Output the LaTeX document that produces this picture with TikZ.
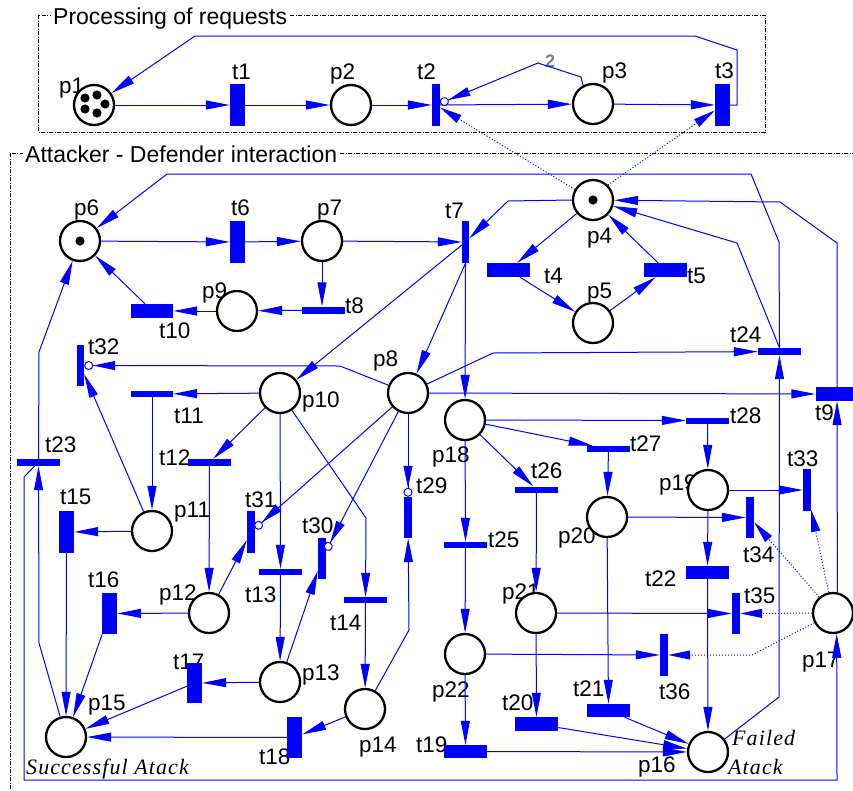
\documentclass[tikz,border=0pt]{standalone}
\usepackage{fontspec}
\setmainfont{Liberation Sans}
\newfontfamily\serifit[LetterSpace=5]{Liberation Serif}
\usetikzlibrary{arrows.meta,calc}
\begin{document}
\begin{tikzpicture}[x=1pt,y=-1pt,
 place/.style={circle,draw=black,line width=2.3pt,minimum size=40pt,inner sep=0pt,fill=white},
 trV/.style={fill=blue,inner sep=0pt,minimum width=15pt,minimum height=42pt},
 trv/.style={fill=blue,inner sep=0pt,minimum width=8pt,minimum height=42pt},
 trH/.style={fill=blue,inner sep=0pt,minimum width=43pt,minimum height=14pt},
 trh/.style={fill=blue,inner sep=0pt,minimum width=43pt,minimum height=6pt},
 lbl/.style={anchor=base west,inner sep=0pt,font=\fontsize{22.5}{24}\selectfont},
 itl/.style={anchor=base west,inner sep=0pt,font=\serifit\itshape\fontsize{22}{24}\selectfont},
 arc/.style={draw=blue,line width=1pt,-{Triangle[length=24pt,width=9pt]}},
 inh/.style={draw=blue,line width=1pt,-{Triangle[length=22pt,width=9pt]Circle[open,fill=white,length=9pt,width=9pt]}},
 test/.style={draw=blue,line width=1pt,dotted,-{Triangle[length=22pt,width=9pt]}},
 frame/.style={draw=black,line width=0.8pt,dash pattern=on 4pt off 1.5pt on 1pt off 1.5pt},
 ttl/.style={anchor=base west,inner xsep=2pt,inner ysep=0pt,fill=white,font=\fontsize{23}{24}\selectfont},
]
\useasboundingbox (0,0) rectangle (853,790);
\clip (0,0) rectangle (853,790);
\fill[white] (0,0) rectangle (853,790);
% frames
\draw[frame] (38,15) rectangle (765,132);
\draw[frame] (10,153) rectangle (900,850);
\node[ttl] (title1) at (51,24) {Processing of requests};
\node[ttl] (title2) at (23,162) {Attacker - Defender interaction};
% labels
\node[lbl] (lp1) at (59,93) {p1};
\node[lbl] (lt1) at (232,79) {t1};
\node[lbl] (lp2) at (330,79) {p2};
\node[lbl] (lt2) at (417,79) {t2};
\node[lbl] (lp3) at (602,78) {p3};
\node[lbl] (lt3) at (715,78) {t3};
\node[anchor=base west,inner sep=0pt,text=gray,font=\bfseries\fontsize{18}{18}\selectfont] (w2) at (545,67) {2};
\node[lbl] (lp6) at (74,215) {p6};
\node[lbl] (lt6) at (231,215) {t6};
\node[lbl] (lp7) at (317,215) {p7};
\node[lbl] (lt7) at (445,218) {t7};
\node[lbl] (lp4) at (587,243) {p4};
\node[lbl] (lt4) at (544,283) {t4};
\node[lbl] (lt5) at (687,283) {t5};
\node[lbl] (lp5) at (587,298) {p5};
\node[lbl] (lp9) at (202,298) {p9};
\node[lbl] (lt8) at (345,313) {t8};
\node[lbl] (lt10) at (159,338) {t10};
\node[lbl] (lt32) at (88,354) {t32};
\node[lbl] (lp8) at (373,366) {p8};
\node[lbl] (lp10) at (302,407) {p10};
\node[lbl] (lt11) at (174,423) {t11};
\node[lbl] (lt23) at (45,452) {t23};
\node[lbl] (lt12) at (159,465) {t12};
\node[lbl] (lt15) at (60,504) {t15};
\node[lbl] (lp11) at (174,517) {p11};
\node[lbl] (lt31) at (245,507) {t31};
\node[lbl] (lt30) at (302,533) {t30};
\node[lbl] (lt29) at (416,493) {t29};
\node[lbl] (lp18) at (432,462) {p18};
\node[lbl] (lt28) at (730,423) {t28};
\node[lbl] (lt27) at (630,451) {t27};
\node[lbl] (lt26) at (531,478) {t26};
\node[lbl] (lt24) at (730,342) {t24};
\node[lbl] (lt9) at (815,420) {t9};
\node[lbl] (lt33) at (787,466) {t33};
\node[lbl] (lp19) at (659,490) {p19};
\node[lbl] (lt25) at (488,547) {t25};
\node[lbl] (lp20) at (558,543) {p20};
\node[lbl] (lt34) at (743,562) {t34};
\node[lbl] (lt22) at (645,586) {t22};
\node[lbl] (lt35) at (744,603) {t35};
\node[lbl] (lt13) at (245,602) {t13};
\node[lbl] (lt16) at (88,587) {t16};
\node[lbl] (lp12) at (159,600) {p12};
\node[lbl] (lt14) at (330,630) {t14};
\node[lbl] (lp21) at (502,599) {p21};
\node[lbl] (lp17) at (802,667) {p17};
\node[lbl] (lt17) at (173,669) {t17};
\node[lbl] (lp13) at (302,680) {p13};
\node[lbl] (lp22) at (432,697) {p22};
\node[lbl] (lt36) at (659,699) {t36};
\node[lbl] (lt20) at (502,710) {t20};
\node[lbl] (lt21) at (573,696) {t21};
\node[lbl] (lp15) at (88,710) {p15};
\node[lbl] (lt19) at (416,752) {t19};
\node[lbl] (lp14) at (359,752) {p14};
\node[lbl] (lt18) at (259,764) {t18};
\node[lbl] (lp16) at (638,772) {p16};
\node[itl] (fa1) at (732,745) {Failed};
\node[itl] (fa2) at (728,774) {Atack};
\node[itl] (sa) at (26,774) {Successful Atack};
% places
\node[place] (p1) at (94,105) {};
\node[place] (p2) at (351,105) {};
\node[place] (p3) at (593,104) {};
\node[place] (p4) at (593,200) {};
\node[place] (p5) at (593,323) {};
\node[place] (p6) at (80,241) {};
\node[place] (p7) at (322,241) {};
\node[place] (p8) at (408,393) {};
\node[place] (p9) at (237,311) {};
\node[place] (p10) at (280,393) {};
\node[place] (p11) at (152,531) {};
\node[place] (p12) at (209,613) {};
\node[place] (p13) at (280,682) {};
\node[place] (p14) at (365,709) {};
\node[place] (p15) at (66,737) {};
\node[place] (p16) at (708,752) {};
\node[place] (p17) at (833,613) {};
\node[place] (p18) at (465,420) {};
\node[place] (p19) at (708,490) {};
\node[place] (p20) at (607,517) {};
\node[place] (p21) at (536,613) {};
\node[place] (p22) at (465,654) {};
% tokens
\fill (97,95) circle (4.6);
\fill (105,104) circle (4.6);
\fill (97,113) circle (4.6);
\fill (85,109) circle (4.6);
\fill (85,98) circle (4.6);
\fill (593,200) circle (4.6);
\fill (80,241) circle (4.6);
% transitions
\node[trV] (t1) at (237.5,105) {};
\node[trv] (t2) at (436,105) {};
\node[trV] (t3) at (722.5,105) {};
\node[trH] (t4) at (508.5,270) {};
\node[trH] (t5) at (665.5,270) {};
\node[trV] (t6) at (237.5,242) {};
\node[trv,minimum width=7pt] (t7) at (465.5,242) {};
\node[trh,minimum height=7pt] (t8) at (323.5,310) {};
\node[trH] (t9) at (837,394) {};
\node[trH,minimum width=42pt] (t10) at (152,311) {};
\node[trh,minimum width=42pt] (t11) at (152,394) {};
\node[trh,minimum height=7pt] (t12) at (209.5,462.5) {};
\node[trh] (t13) at (280.5,572) {};
\node[trh] (t14) at (365.5,600) {};
\node[trV] (t15) at (66.5,532) {};
\node[trV,minimum height=41pt] (t16) at (109.5,613.5) {};
\node[trV,minimum height=40pt] (t17) at (194.5,683) {};
\node[trV,minimum height=41pt] (t18) at (294.5,737.5) {};
\node[trH,minimum height=13pt] (t19) at (465.5,751.5) {};
\node[trH] (t20) at (536.5,724) {};
\node[trH,minimum height=13pt] (t21) at (608.5,710.5) {};
\node[trH,minimum height=13pt] (t22) at (707.5,572.5) {};
\node[trh,minimum height=7pt] (t23) at (38.5,462.5) {};
\node[trh,minimum height=7pt] (t24) at (779.5,351.5) {};
\node[trh] (t25) at (465.5,545) {};
\node[trh] (t26) at (536.5,489.5) {};
\node[trh] (t27) at (608.5,449) {};
\node[trh] (t28) at (707.5,420.5) {};
\node[trv,minimum height=41pt] (t29) at (408,517.5) {};
\node[trv,minimum height=41pt] (t30) at (322,558.5) {};
\node[trv] (t31) at (251,532) {};
\node[trv,minimum width=7pt,minimum height=41pt] (t32) at (80.5,365.5) {};
\node[trv] (t33) at (807,490) {};
\node[trv,minimum height=41pt] (t34) at (750,517.5) {};
\node[trv,minimum height=41pt] (t35) at (736,613.5) {};
\node[trv] (t36) at (664,655) {};
% top arcs
\draw[arc] (p1) -- (t1);
\draw[arc] (t1) -- (p2);
\draw[arc] (p2) -- (t2);
\draw[arc] (t2) -- (p3);
\draw[arc] (p3) -- (t3);
\draw[arc] (t3.east) -- (737,105) -- (737,50) -- (695,36) -- (195,36) -- (p1);
\draw[inh] (p3.118) -- (581,77) -- (538,63) -- (t2);
\draw[test] (p4.150) -- (t2);
\draw[test] (p4.45) -- (t3);
% attacker / defender
\draw[arc] (p6) -- (t6);
\draw[arc] (t6) -- (p7);
\draw[arc] (p7) -- (t7);
\draw[arc] (p7) -- (p7 |- t8.north);
\draw[arc] (t8) -- (p9);
\draw[arc] (p9) -- (t10);
\draw[arc] ($(t10.north)+(-7,0)$) -- (p6);
\draw[arc] (p4) -- (t4);
\draw[arc] (t4) -- (p5);
\draw[arc] (p5) -- (t5);
\draw[arc] (t5) -- (p4);
\draw[arc] (p4.west) -- (508,201) -- (t7);
\draw[arc] (t7) -- (p10);
\draw[arc] (t7.south) -- (p8);
\draw[arc] (t7.south) -- (p18);
\draw[arc] (p8) -- (493,353) -- (t24);
\draw[arc] (p8) -- (t9);
\draw[inh] (p8) -- (340,366) -- (t32);
\draw[inh] (p8) -- (t31);
\draw[inh] (p8) -- (t30);
\draw[inh] (p8) -- (t29);
\draw[arc] (p10) -- (t11);
\draw[arc] (p10) -- (t12);
\draw[arc] (p10) -- (t13);
\draw[arc] (p10) -- (366,518) -- (t14);
\draw[arc] (t11) -- (p11);
\draw[arc] (t12) -- (p12);
\draw[arc] (t13) -- (p13);
\draw[arc] (t14) -- (p14);
\draw[arc] (p11) -- (t15);
\draw[arc] (p11) -- (t32);
\draw[arc] (t15) -- (p15);
\draw[arc] (p12) -- (t16);
\draw[arc] (t16) -- (p15);
\draw[arc] (p12) -- (t31);
\draw[arc] (p13) -- (t30);
\draw[arc] (p13) -- (t17);
\draw[arc] (t17) -- (p15);
\draw[arc] (p14) -- (t18);
\draw[arc] (t18) -- (p15);
\draw[arc] (p14) -- (409,630) -- (t29);
\draw[arc] (p15) -- (39,643) -- (t23);
\draw[arc] (t23.north) -- (39,352) -- (p6);
\draw[arc] ($(t23.south)+(-4,0)$) -- (24,477) -- (24,780) -- (837,780) -- (p17.-80);
% right part
\draw[arc] (p18) -- (t25);
\draw[arc] (t25) -- (p22);
\draw[arc] (p22) -- (t19);
\draw[arc] (t19) -- (p16);
\draw[arc] (p18) -- (t26);
\draw[arc] (t26) -- (p21);
\draw[arc] (p21) -- (t20);
\draw[arc] (t20) -- (p16);
\draw[arc] (p18) -- (t27);
\draw[arc] (t27) -- (p20);
\draw[arc] (p20) -- (t21);
\draw[arc] (t21) -- (p16);
\draw[arc] (p18) -- (t28);
\draw[arc] (t28) -- (p19);
\draw[arc] (p19) -- (t22);
\draw[arc] (t22) -- (p16);
\draw[arc] (p19) -- (t33);
\draw[arc] (p20) -- (t34);
\draw[arc] (p21) -- (t35);
\draw[arc] (p22) -- (t36);
\draw[arc] (p16) -- (779,697) -- (t24);
\draw[arc] (t24.north) -- (737,243) -- (p4);
\draw[arc] (t24.north) -- (779,242) -- (751,174) -- (167,174) -- (p6);
\draw[arc] (p17.78) -- (t9);
\draw[arc] (t9.north) -- (837,243) -- (780,202) -- (p4);
\draw[test] (p17) -- (t33);
\draw[test] (p17) -- (t34);
\draw[test] (p17) -- (t35);
\draw[test] (p17) -- (752,655) -- (t36);
\end{tikzpicture}
\end{document}
